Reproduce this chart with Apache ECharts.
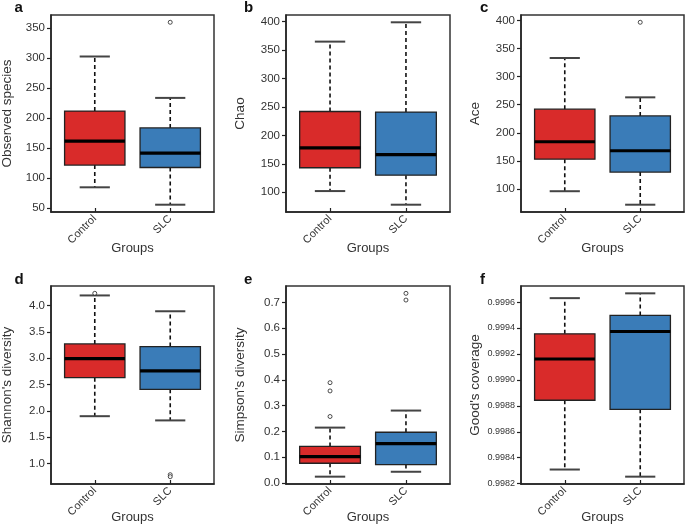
<!DOCTYPE html>
<html>
<head>
<meta charset="utf-8">
<script src="https://cdn.jsdelivr.net/npm/echarts@6/dist/echarts.min.js"></script>
<style>html,body{margin:0;padding:0;background:#fff;}#c{width:685px;height:524px;}</style>
</head>
<body>
<div id="c"></div>
<script>
// ---- data ----
const categories = ['Control', 'SLC'];
const groupColors = ['#D92B2A', '#3A7CB8'];

// [min whisker, Q1, median, Q3, max whisker] per group
const observedStats = [[85, 122, 162, 212, 303], [56, 118, 142, 184, 234]];
const observedOutliers = [[], [360]];
const observedTicks = [50, 100, 150, 200, 250, 300, 350];

const chaoStats = [[102, 143, 178, 242, 365], [78, 130, 166, 241, 399]];
const chaoOutliers = [[], []];
const chaoTicks = [100, 150, 200, 250, 300, 350, 400];

const aceStats = [[96, 153, 184, 242, 333], [72, 130, 168, 230, 263]];
const aceOutliers = [[], [396.5]];
const aceTicks = [100, 150, 200, 250, 300, 350, 400];

const shannonStats = [[1.90, 2.63, 2.99, 3.27, 4.19], [1.82, 2.41, 2.76, 3.22, 3.89]];
const shannonOutliers = [[4.23], [0.79, 0.753]];
const shannonTicks = [1.0, 1.5, 2.0, 2.5, 3.0, 3.5, 4.0];

const simpsonStats = [[0.025, 0.077, 0.103, 0.142, 0.215], [0.044, 0.072, 0.153, 0.197, 0.281]];
const simpsonOutliers = [[0.258, 0.357, 0.389], [0.709, 0.735]];
const simpsonTicks = [0.0, 0.1, 0.2, 0.3, 0.4, 0.5, 0.6, 0.7];

const goodStats = [[0.998309, 0.998843, 0.999161, 0.999355, 0.99963], [0.998254, 0.998773, 0.999373, 0.999497, 0.999667]];
const goodOutliers = [[], []];
const goodTicks = [0.9982, 0.9984, 0.9986, 0.9988, 0.9990, 0.9992, 0.9994, 0.9996];

const panelLetters = ['a', 'b', 'c', 'd', 'e', 'f'];
const yTitles = ['Observed species', 'Chao', 'Ace', "Shannon's diversity", "Simpson's diversity", "Good's coverage"];
const xTitle = 'Groups';

// ---- layout ----
const panels = [
  {stats: observedStats, out: observedOutliers, ticks: observedTicks, dec: 0, left: 51, top: 15, width: 163, height: 197, fs: 11.5},
  {stats: chaoStats, out: chaoOutliers, ticks: chaoTicks, dec: 0, left: 286, top: 15, width: 164, height: 197, fs: 11.5},
  {stats: aceStats, out: aceOutliers, ticks: aceTicks, dec: 0, left: 521, top: 15, width: 163, height: 197, fs: 11.5},
  {stats: shannonStats, out: shannonOutliers, ticks: shannonTicks, dec: 1, left: 51, top: 286, width: 163, height: 198, fs: 11.5},
  {stats: simpsonStats, out: simpsonOutliers, ticks: simpsonTicks, dec: 1, left: 286, top: 286, width: 164, height: 198, fs: 11.5},
  {stats: goodStats, out: goodOutliers, ticks: goodTicks, dec: 4, left: 521, top: 286, width: 163, height: 198, fs: 9}
];
const letterOffsets = [-36.5, -42, -41];

const FONT = '"Liberation Sans", Arial, sans-serif';

function renderBox(params, api) {
  const x = api.value(0);
  const mn = api.value(1), q1 = api.value(2), md = api.value(3), q3 = api.value(4), mx = api.value(5);
  const pMin = api.coord([x, mn]), pQ1 = api.coord([x, q1]), pMd = api.coord([x, md]);
  const pQ3 = api.coord([x, q3]), pMax = api.coord([x, mx]);
  const half = api.size([0.4, 0])[0];
  const cap = api.size([0.2, 0])[0];
  const cx = pMd[0];
  const color = groupColors[params.dataIndex];
  const dash = {stroke: '#111', lineWidth: 1.6, lineDash: [4, 3], fill: null};
  const capStyle = {stroke: '#444', lineWidth: 2};
  return {
    type: 'group',
    children: [
      {type: 'line', shape: {x1: cx, y1: pQ3[1], x2: cx, y2: pMax[1]}, style: dash},
      {type: 'line', shape: {x1: cx, y1: pQ1[1], x2: cx, y2: pMin[1]}, style: dash},
      {type: 'line', shape: {x1: cx - cap, y1: pMax[1], x2: cx + cap, y2: pMax[1]}, style: capStyle},
      {type: 'line', shape: {x1: cx - cap, y1: pMin[1], x2: cx + cap, y2: pMin[1]}, style: capStyle},
      {type: 'rect', shape: {x: cx - half, y: pQ3[1], width: 2 * half, height: pQ1[1] - pQ3[1]},
        style: {fill: color, stroke: '#222', lineWidth: 1.3}},
      {type: 'line', shape: {x1: cx - half, y1: pMd[1], x2: cx + half, y2: pMd[1]}, style: {stroke: '#000', lineWidth: 3.2}}
    ]
  };
}

const grids = [], xAxes = [], yAxes = [], series = [], titles = [];
panels.forEach((p, i) => {
  const all = [];
  p.stats.forEach(s => all.push(...s));
  p.out.forEach(o => all.push(...o));
  const lo = Math.min(...all), hi = Math.max(...all), r = hi - lo;
  grids.push({left: p.left, top: p.top, width: p.width, height: p.height, show: true, outerBoundsMode: 'none',
    borderColor: '#333', borderWidth: 1.5, backgroundColor: 'transparent'});
  xAxes.push({
    type: 'value', gridIndex: i, min: 0.42, max: 2.58,
    name: xTitle, nameLocation: 'middle', nameGap: i < 3 ? 30 : 27, nameMoveOverlap: false,
    nameTextStyle: {fontSize: 13, color: '#333', fontFamily: FONT, verticalAlign: 'top'},
    axisLine: {show: true, onZero: false, lineStyle: {color: '#222', width: 1.5}},
    axisTick: {show: true, inside: true, length: 4, customValues: [1, 2], lineStyle: {color: '#222', width: 1.2}},
    axisLabel: {show: true, customValues: [1, 2], rotate: 45, margin: 5, fontSize: 11, color: '#333', fontFamily: FONT,
      formatter: v => categories[Math.round(v) - 1]},
    splitLine: {show: false}
  });
  yAxes.push({
    type: 'value', gridIndex: i, min: lo - 0.04 * r, max: hi + 0.04 * r,
    name: yTitles[i], nameLocation: 'middle', nameRotate: 90, nameGap: (i % 3 === 0) ? 37 : 39, nameMoveOverlap: false,
    nameTextStyle: {fontSize: 13.5, color: '#333', fontFamily: FONT},
    axisLine: {show: true, onZero: false, lineStyle: {color: '#222', width: 1.5}},
    axisTick: {show: true, length: 4, customValues: p.ticks, lineStyle: {color: '#222', width: 1.2}},
    axisLabel: {show: true, customValues: p.ticks, margin: 6, fontSize: p.fs, color: '#333', fontFamily: FONT,
      formatter: v => v.toFixed(p.dec)},
    splitLine: {show: false}
  });
  series.push({
    type: 'custom', xAxisIndex: i, yAxisIndex: i, clip: false,
    renderItem: renderBox,
    encode: {x: 0, y: [1, 2, 3, 4, 5]},
    data: p.stats.map((s, g) => [g + 1, ...s])
  });
  const outData = [];
  p.out.forEach((o, g) => o.forEach(v => outData.push([g + 1, v])));
  series.push({
    type: 'scatter', xAxisIndex: i, yAxisIndex: i, symbol: 'circle', symbolSize: 4,
    itemStyle: {color: '#fff', borderColor: '#222', borderWidth: 1}, data: outData, silent: true
  });
  titles.push({text: panelLetters[i], left: p.left + letterOffsets[i % 3], top: p.top - 15 + (i >= 3 ? 1 : 0),
    textStyle: {fontSize: 15, fontWeight: 'bold', color: '#111', fontFamily: FONT}, padding: 0});
});

const chart = echarts.init(document.getElementById('c'), null, {renderer: 'canvas'});
chart.setOption({
  animation: false,
  backgroundColor: '#fff',
  title: titles,
  grid: grids,
  xAxis: xAxes,
  yAxis: yAxes,
  series: series
});
</script>
</body>
</html>
